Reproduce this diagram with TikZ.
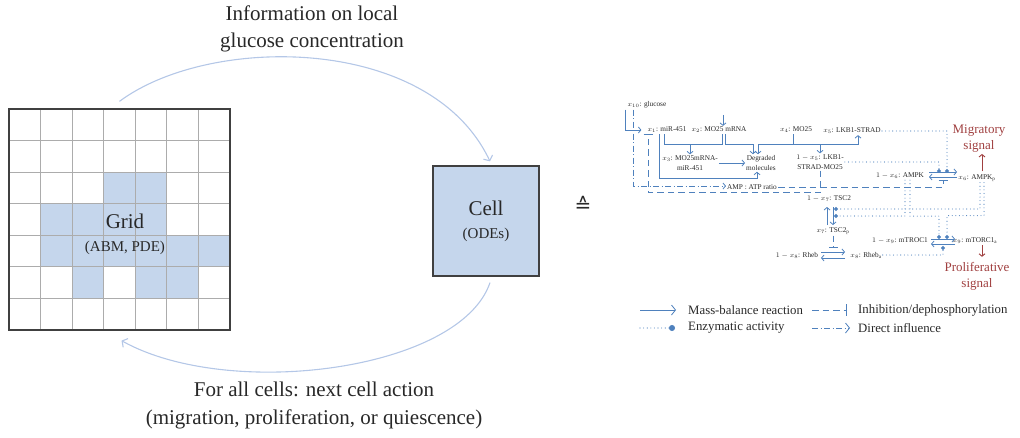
\documentclass[tikz,border=0pt]{standalone}
\usepackage{fontspec}
\setmainfont{Liberation Serif}
\newfontfamily\symfont{DejaVu Sans}
\usepackage{tikz}
\usetikzlibrary{arrows.meta}
\definecolor{netblue}{RGB}{79,129,189}
\definecolor{cellblue}{RGB}{197,214,236}
\definecolor{arcblue}{RGB}{180,199,231}
\definecolor{gridgray}{RGB}{172,172,172}
\definecolor{framegray}{RGB}{64,64,64}
\definecolor{sigred}{RGB}{160,64,64}
\definecolor{textgray}{RGB}{40,40,40}
\tikzstyle{bigtext} = [inner sep=0pt, text=textgray, align=center, font=\fontsize{21}{27}\selectfont]
\tikzstyle{boxtext} = [inner sep=0pt, text=textgray, align=center, font=\fontsize{21}{23}\selectfont]
\tikzstyle{species} = [inner sep=1pt, text=textgray, align=center, font=\fontsize{7.3}{10}\selectfont]
\tikzstyle{sigtext} = [inner sep=1pt, text=sigred, align=center, font=\fontsize{13}{16}\selectfont]
\tikzstyle{legtext} = [inner sep=0pt, text=textgray, anchor=west, font=\fontsize{12.8}{15}\selectfont]
\tikzstyle{gridline} = [draw=gridgray, line width=1.1pt]
\tikzstyle{feedback} = [draw=arcblue, line width=1.1pt, -{Straight Barb[length=4pt,width=10pt]}]
\tikzstyle{bond} = [draw=netblue, line width=0.8pt]
\tikzstyle{mass} = [draw=netblue, line width=0.8pt, -{Straight Barb[length=2.5pt,width=6pt]}]
\tikzstyle{inhib} = [draw=netblue, line width=0.8pt, dash pattern=on 6.5pt off 4pt, -{Bar[width=9pt,line width=1.2pt]}]
\tikzstyle{enzyme} = [draw=netblue, line width=1.1pt, line cap=round, dash pattern=on 0pt off 3.6pt, -{Circle[length=4pt]}]
\tikzstyle{influence} = [draw=netblue, line width=0.8pt, dash pattern=on 6pt off 2.5pt on 1pt off 2.5pt, -{Straight Barb[length=2.5pt,width=6pt]}]
\tikzstyle{sigarrow} = [draw=sigred, line width=0.9pt, -{Straight Barb[length=2.5pt,width=6pt]}]
\begin{document}
\begin{tikzpicture}[x=1pt, y=-1pt]
\useasboundingbox (0,0) rectangle (1020,437);
% lattice of the hybrid model
\foreach \col/\row in {3/2,4/2,1/3,2/3,3/3,4/3,1/4,2/4,3/4,4/4,5/4,6/4,2/5,4/5,5/5}
	\fill [cellblue] (9+31.57*\col,109+31.57*\row) rectangle +(31.57,31.57);
\foreach \i in {1,...,6} {
	\draw [gridline] (9+31.57*\i,109) -- (9+31.57*\i,330);
	\draw [gridline] (9,109+31.57*\i) -- (230,109+31.57*\i);
}
\node [draw=framegray, line width=1.3pt, minimum size=221pt, inner sep=0pt] (gridbox) at (119.5,219.5) {};
\node [boxtext] (gridtext) at (125,234) {Grid\\{\fontsize{15}{18}\selectfont (ABM, PDE)}};
\node [boxtext, draw=framegray, line width=1.3pt, fill=cellblue, minimum width=106pt, minimum height=110pt]
	(cell) at (486,221) {Cell\\{\fontsize{15}{18}\selectfont (ODEs)}};
\node [inner sep=0pt, text=textgray, font=\symfont\fontsize{20}{22}\selectfont] (corr) at (583,204) {≙};
\node [bigtext] (info) at (312,29) {Information on local\\glucose concentration};
\node [bigtext, font=\fontsize{21}{28}\selectfont] (action) at (314,405)
	{For all cells: next cell action\\(migration, proliferation, or quiescence)};
\draw [feedback] ([shift={(0,-7)}]gridbox.north) .. controls +(90,-67) and +(-60,-127) .. ([shift={(4,-4)}]cell.north);
\draw [feedback] ([shift={(4,6)}]cell.south) .. controls +(-30,88) and +(108,60) .. ([shift={(2,10)}]gridbox.south);
% intracellular network
\node [species] (glc) at (647,105) {$x_{10}$: glucose};
\node [species] (x1) at (667,130) {$x_1$: miR-451};
\node [species] (x2) at (719,130) {$x_2$: MO25 mRNA};
\node [species] (x4) at (796,130) {$x_4$: MO25};
\node [species] (x5) at (852,131) {$x_5$: LKB1-STRAD};
\node [species] (x3) at (690,163) {$x_3$: MO25mRNA-\\miR-451};
\node [species] (deg) at (761,163) {Degraded\\molecules};
\node [species] (x5c) at (820,162) {$1-x_5$: LKB1-\\STRAD-MO25};
\node [species] (ratio) at (752,187) {AMP : ATP ratio};
\node [species] (x6c) at (900,176) {$1-x_6$: AMPK};
\node [species] (x6) at (977,178) {$x_6$: AMPK$_\mathrm{p}$};
\node [species] (x7c) at (829,199) {$1-x_7$: TSC2};
\node [species] (x7) at (833,231) {$x_7$: TSC2$_\mathrm{p}$};
\node [species] (x8c) at (797,255) {$1-x_8$: Rheb};
\node [species] (x8) at (866,255) {$x_8$: Rheb$_\mathrm{a}$};
\node [species] (x9c) at (900,241) {$1-x_9$: mTROC1};
\node [species] (x9) at (975,241) {$x_9$: mTORC1$_\mathrm{a}$};
\node [sigtext] (mig) at (979,139) {Migratory\\signal};
\node [sigtext] (pro) at (977,276) {Proliferative\\signal};
\coordinate (r6) at (943,175);
\coordinate (r7) at (830,216);
\coordinate (r8) at (833,255);
\coordinate (r9) at (943,242);
% mass balance
\draw [mass] ([xshift=-1pt]glc.south west) |- ([xshift=-5pt]x1.west);
\draw [mass] ([shift={(4,-11)}]x2.north) -- ([xshift=4pt]x2.north);
\draw [bond] ([xshift=-3pt]x1.south) -- ++(0,10) coordinate (j12) -| ([xshift=3pt]x2.south);
\draw [mass] (j12 -| x3) -- (x3);
\draw [mass] ([xshift=6pt]x2.south) -- ++(0,10) -| ([xshift=-8pt]deg.north);
\draw [mass] ([xshift=-3pt]x4.south) -- ++(0,10) coordinate (j4) -| ([xshift=-3pt]deg.north);
\draw [mass] (j4) -| ([xshift=6pt]x5.south);
\draw [mass] (j4 -| x5c) -- (x5c);
\draw [mass] (x3) -- (deg);
\draw [mass] ([xshift=-8pt]x1.south) -- ++(0,44) -| ([xshift=-4pt]deg.south);
\draw [mass] ([shift={(-14,-3)}]r6) -- ([shift={(14,-3)}]r6);
\draw [mass] ([shift={(14,2)}]r6) -- ([shift={(-14,2)}]r6);
\draw [mass] ([shift={(-3,9)}]r7) -- ([shift={(-3,-9)}]r7);
\draw [mass] ([shift={(3,-9)}]r7) -- ([shift={(3,9)}]r7);
\draw [mass] ([shift={(-12,-3)}]r8) -- ([shift={(12,-3)}]r8);
\draw [mass] ([shift={(12,3)}]r8) -- ([shift={(-12,3)}]r8);
\draw [mass] ([shift={(-12,-3)}]r9) -- ([shift={(12,-3)}]r9);
\draw [mass] ([shift={(12,2)}]r9) -- ([shift={(-12,2)}]r9);
% enzymes
\draw [enzyme] (x5.east) -| ([shift={(4,-2)}]r6);
\draw [enzyme] (x5c.east) -| ([shift={(-4,-2)}]r6);
\draw [enzyme] ([xshift=3pt]x6.south) |- ([shift={(4,-7)}]r7);
\draw [enzyme] ([xshift=7pt]x6.south) -- ++(0,33) -| ([shift={(4,-3)}]r9);
\draw [enzyme] ([xshift=5pt]x6c.south) |- ([shift={(4,0)}]r7);
\draw [enzyme] ([xshift=10pt]x6c.south) -- ++(0,36) -| ([shift={(-4,-3)}]r9);
\draw [enzyme] (x8.east) -| ([shift={(0,4)}]r9);
% inhibition and influence
\draw [inhib] (x5c.south) -- ++(0,22) -| ([xshift=-19pt]x1.south);
\draw [inhib] (ratio.east) -| ([shift={(0,5)}]r6);
\draw [inhib] (x7.south) -- ([shift={(0,-7)}]r8);
\draw [influence] ([xshift=7pt]glc.south west) |- ([yshift=1pt]ratio.west);
\draw [sigarrow, shorten <=2pt] ([xshift=5pt]x6.north) -- ([xshift=5pt]x6.north |- mig.south);
\draw [sigarrow, shorten >=4pt] ([xshift=7pt]x9.south) -- ([xshift=7pt]x9.south |- pro.north);
% legend
\node [legtext] (lg_mass) at (688,310) {Mass-balance reaction};
\node [legtext] (lg_enz) at (688,328) {Enzymatic activity};
\node [legtext] (lg_inh) at (858,310) {Inhibition/dephosphorylation};
\node [legtext] (lg_inf) at (858,328) {Direct influence};
\draw [mass, -{Straight Barb[length=4pt,width=10pt]}] ([xshift=-48pt]lg_mass.west) -- ([xshift=-12pt]lg_mass.west);
\draw [enzyme, -{Circle[length=6pt]}] ([xshift=-48pt]lg_enz.west) -- ([xshift=-13pt]lg_enz.west);
\draw [inhib, -{Bar[width=12pt,line width=1.2pt]}] ([xshift=-46pt]lg_inh.west) -- ([xshift=-11pt]lg_inh.west);
\draw [influence, -{Straight Barb[length=4pt,width=10pt]}] ([xshift=-46pt]lg_inf.west) -- ([xshift=-8pt]lg_inf.west);
\end{tikzpicture}
\end{document}
